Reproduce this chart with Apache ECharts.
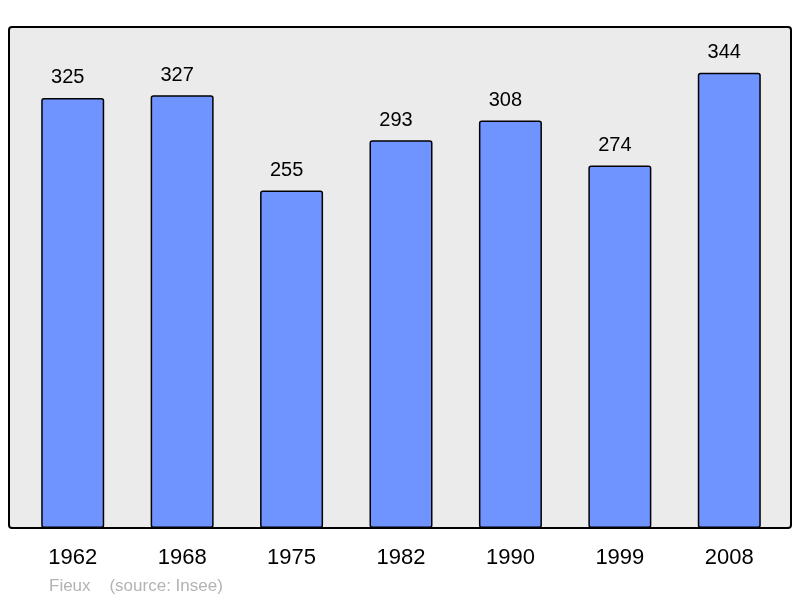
<!DOCTYPE html>
<html lang="fr">
<head>
<meta charset="utf-8">
<title>Fieux - population</title>
<style>
* { margin: 0; padding: 0; }
#chart-container { position: relative; width: 800px; height: 598px; overflow: hidden; background: #fff; }
</style>
</head>
<body>
<div id="chart-container"></div>
<script src="https://cdn.jsdelivr.net/npm/echarts@6/dist/echarts.min.js"></script>
<script>
const years = ['1962', '1968', '1975', '1982', '1990', '1999', '2008'];
const population = [325, 327, 255, 293, 308, 274, 344];
const footer = 'Fieux    (source: Insee)';

var dom = document.getElementById('chart-container');
var myChart = echarts.init(dom, null, { renderer: 'canvas' });

var option = {
  animation: false,
  textStyle: { fontFamily: 'Liberation Sans, Arial, sans-serif' },
  graphic: [
    {
      type: 'rect',
      z: -10,
      shape: { x: 9, y: 27, width: 782, height: 501, r: 3 },
      style: { fill: '#ebebeb', stroke: '#000', lineWidth: 2 }
    },
    {
      type: 'text',
      left: 49,
      top: 578,
      style: {
        text: footer,
        fill: '#b3b3b3',
        font: '17px "Liberation Sans", Arial, sans-serif'
      }
    }
  ],
  grid: { left: 18, right: 16, top: 27, bottom: 70 },
  xAxis: {
    type: 'category',
    data: years,
    axisLine: { show: false },
    axisTick: { show: false },
    axisLabel: { color: '#000', fontSize: 22, margin: 19 }
  },
  yAxis: {
    type: 'value',
    min: 0,
    max: 378.6,
    show: false,
    splitLine: { show: false }
  },
  series: [
    {
      type: 'bar',
      data: population,
      barWidth: 63,
      z: 2,
      itemStyle: {
        color: '#7094ff',
        borderColor: '#000',
        borderWidth: 1.5,
        borderRadius: 2
      },
      label: {
        show: true,
        position: 'top',
        distance: 10,
        offset: [-5, 0],
        color: '#000',
        fontSize: 20
      }
    }
  ]
};

myChart.setOption(option);
window.addEventListener('resize', myChart.resize);
</script>
</body>
</html>
